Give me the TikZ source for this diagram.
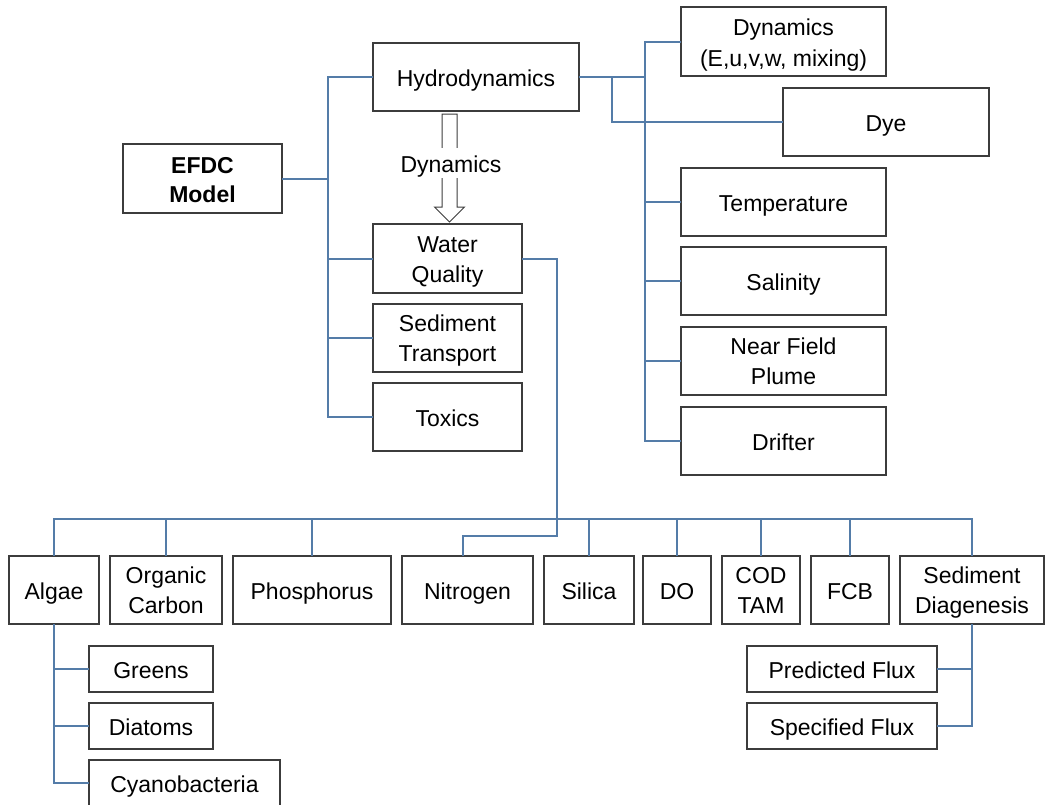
\documentclass[tikz,border=0pt]{standalone}
\usepackage{fontspec}
\setmainfont{Liberation Sans}
\definecolor{connc}{RGB}{84,124,168}
\definecolor{boxc}{RGB}{60,60,60}
\begin{document}
\begin{tikzpicture}[x=1pt,y=-1pt,
  bx/.style={draw=boxc, line width=1.1pt, fill=white, inner sep=2pt, outer sep=0pt,
    align=center, font=\fontsize{23}{30}\selectfont, text=black},
  one/.style={text height=18pt, text depth=0pt},
  two/.style={text height=48pt, text depth=1pt},
  big/.style={bx, minimum height=68pt},
  small/.style={bx, minimum height=46pt},
  conn/.style={draw=connc, line width=2pt}]
\useasboundingbox (0,0) rectangle (1055,804);
% top-left block
\node[big, minimum width=159pt, minimum height=69pt, text height=47pt, text depth=0pt,
  font=\fontsize{23}{29}\selectfont\bfseries] (efdc) at (202.5,178.5) {EFDC\\Model};
\node[big, one, minimum width=206pt] (hydro) at (476,77) {Hydrodynamics};
\node[big, two, minimum width=149pt, minimum height=69pt] (wq) at (447.5,258.5) {Water\\Quality};
\node[big, two, minimum width=149pt] (sedt) at (447.5,338) {Sediment\\Transport};
\node[big, one, minimum width=149pt] (tox) at (447.5,417) {Toxics};
% hollow arrow
\draw[draw=boxc, line width=1pt, fill=white, line join=miter]
  (442,114) -- (457,114) -- (457,207) -- (464.5,207) -- (449.5,222) -- (434.5,207) -- (442,207) -- cycle;
\node[fill=white, inner xsep=1pt, inner ysep=6pt, text height=18pt, text depth=0pt,
  font=\fontsize{23}{28}\selectfont] (dlab) at (451,163) {Dynamics};
% right column
\node[big, minimum width=205pt, minimum height=69pt, text height=49pt, text depth=0pt,
  font=\fontsize{23}{31}\selectfont] (dyn) at (783.5,41.5) {Dynamics\\(E,u,v,w, mixing)};
\node[big, one, minimum width=206pt] (dye) at (886,122) {Dye};
\node[big, one, minimum width=205pt] (temp) at (783.5,202) {Temperature};
\node[big, one, minimum width=205pt] (sal) at (783.5,281) {Salinity};
\node[big, two, minimum width=205pt] (nfp) at (783.5,361) {Near Field\\Plume};
\node[big, one, minimum width=205pt] (drift) at (783.5,441) {Drifter};
% bottom row
\node[big, one, minimum width=90pt] (algae) at (54,590) {Algae};
\node[big, two, minimum width=112pt] (orgc) at (166,590) {Organic\\Carbon};
\node[big, one, minimum width=158pt] (phos) at (312,590) {Phosphorus};
\node[big, one, minimum width=131pt] (nitro) at (467.5,590) {Nitrogen};
\node[big, one, minimum width=90pt] (silica) at (589,590) {Silica};
\node[big, one, minimum width=68pt] (do) at (677,590) {DO};
\node[big, two, minimum width=78pt] (cod) at (761,590) {COD\\TAM};
\node[big, one, minimum width=78pt] (fcb) at (850,590) {FCB};
\node[big, two, minimum width=144pt] (sdiag) at (972,590) {Sediment\\Diagenesis};
% algae sub
\node[small, one, minimum width=124pt] (greens) at (151,669) {Greens};
\node[small, one, minimum width=124pt] (diatoms) at (151,726) {Diatoms};
\node[small, one, minimum width=191pt] (cyano) at (184.5,783) {Cyanobacteria};
% sediment sub
\node[small, one, minimum width=190pt] (pred) at (842,669) {Predicted Flux};
\node[small, one, minimum width=190pt] (spec) at (842,726) {Specified Flux};
% connectors: left trunk
\coordinate (lt) at (328,178.5);
\draw[conn] (efdc.east) -- (lt);
\draw[conn] (hydro.west) -| (lt) |- (tox.west);
\draw[conn] (lt) |- (wq.west);
\draw[conn] (lt) |- (sedt.west);
% right trunk
\coordinate (rt) at (645,77);
\coordinate (dj) at (612,77);
\draw[conn] (hydro.east) -- (rt);
\draw[conn] (dyn.west) -| (rt) |- (drift.west);
\draw[conn] (rt) |- (temp.west);
\draw[conn] (rt) |- (sal.west);
\draw[conn] (rt) |- (nfp.west);
\draw[conn] (dj) |- (dye.west);
% water quality to bottom
\coordinate (wqbend) at (557,536);
\draw[conn] (wq.east) -| (wqbend) -| ([xshift=-4.5pt]nitro.north);
\coordinate (busL) at (54,519);
\coordinate (busR) at (972,519);
\draw[conn] (algae.north) -- (busL) -- (busR) -- (sdiag.north);
\foreach \n in {orgc,phos,silica,do,cod,fcb}
  \draw[conn] (\n.north) -- (\n.north |- busL);
% algae sub
\draw[conn] (algae.south) |- (cyano.west);
\draw[conn] (algae.south) |- (greens.west);
\draw[conn] (algae.south) |- (diatoms.west);
% sediment sub
\draw[conn] (sdiag.south) |- (spec.east);
\draw[conn] (sdiag.south) |- (pred.east);
\end{tikzpicture}
\end{document}
